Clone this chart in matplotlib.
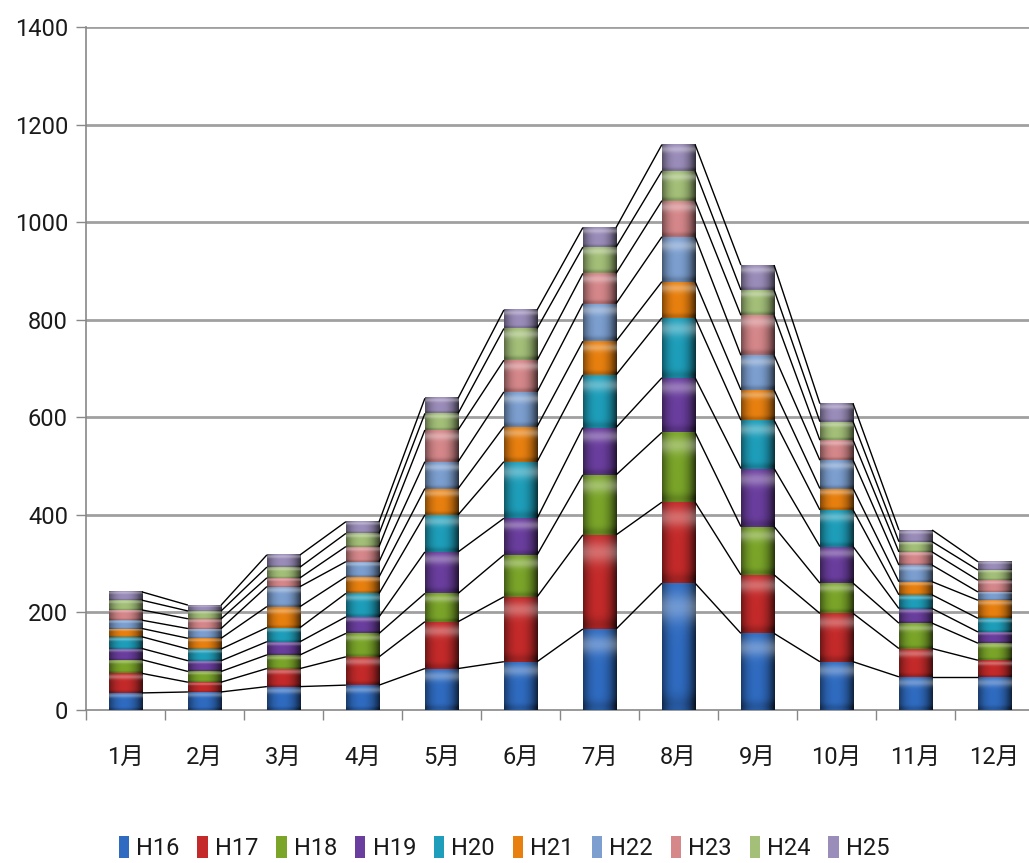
import matplotlib
matplotlib.use("Agg")
import matplotlib.pyplot as plt
import numpy as np
from matplotlib.patches import Rectangle
from matplotlib.colors import to_rgb

months = ['1月', '2月', '3月', '4月', '5月', '6月', '7月', '8月', '9月', '10月', '11月', '12月']
series_names = ['H16', 'H17', 'H18', 'H19', 'H20', 'H21', 'H22', 'H23', 'H24', 'H25']
H16 = [35, 37, 48, 51, 85, 99, 166, 260, 157, 99, 68, 68]
H17 = [40, 20, 37, 58, 96, 133, 193, 166, 120, 99, 58, 34]
H18 = [28, 22, 28, 48, 58, 86, 123, 143, 99, 62, 52, 35]
H19 = [23, 22, 27, 34, 85, 75, 97, 112, 119, 75, 30, 23]
H20 = [24, 24, 29, 48, 76, 116, 108, 123, 99, 75, 28, 28]
H21 = [17, 22, 43, 34, 54, 72, 69, 74, 62, 44, 27, 37]
H22 = [17, 20, 41, 31, 55, 71, 77, 92, 71, 58, 34, 17]
H23 = [21, 20, 18, 31, 65, 65, 62, 74, 82, 41, 27, 24]
H24 = [20, 16, 22, 27, 34, 65, 54, 61, 52, 38, 21, 21]
H25 = [17, 12, 25, 24, 31, 38, 40, 54, 51, 37, 24, 17]
yticks = [0, 200, 400, 600, 800, 1000, 1200, 1400]

series = [H16, H17, H18, H19, H20, H21, H22, H23, H24, H25]
colors = ['#2F6BC0', '#C42A2A', '#7AA529', '#6A3E9E', '#1E9EBA',
          '#E8800F', '#7C9FD0', '#D5878A', '#A3BF78', '#9B8DBA']

LATIN = ['Roboto', 'Liberation Sans', 'DejaVu Sans']
CJK = ['Roboto', 'Noto Sans CJK JP', 'DejaVu Sans']

fig = plt.figure(figsize=(10.29, 8.63), dpi=100)
ax = fig.add_axes([86 / 1029, (863 - 710) / 863, (1034 - 86) / 1029, (710 - 27) / 863])

x = np.arange(len(months))
w = 0.42


def shade(base, nx=40, ny=30):
    r = np.array(to_rgb(base))
    xs = np.linspace(-1, 1, nx)
    ys = np.linspace(0, 1, ny)  # 0 bottom, 1 top
    X, Y = np.meshgrid(xs, ys)
    hcur = 1.0 - 0.55 * np.abs(X + 0.1) ** 2.2
    vband = 0.35 * np.exp(-((Y - 0.82) / 0.12) ** 2)
    vdark = -0.18 * np.exp(-((Y - 0.03) / 0.08) ** 2)
    img = np.empty((ny, nx, 3))
    for c in range(3):
        val = r[c] * hcur + vdark * r[c]
        val = val + vband * (1 - val) * 0.9
        img[:, :, c] = val
    return np.clip(img, 0, 1)


bottoms = np.zeros(len(months))
tops_per_series = []
for vals, col in zip(series, colors):
    vals = np.array(vals, dtype=float)
    img = shade(col)
    for i in range(len(months)):
        b = bottoms[i]
        t = b + vals[i]
        ax.imshow(img, extent=[x[i] - w / 2, x[i] + w / 2, b, t], origin='lower',
                  aspect='auto', interpolation='bilinear', zorder=3)
    bottoms = bottoms + vals
    tops_per_series.append(bottoms.copy())

# series lines
for tops in tops_per_series:
    for i in range(len(months) - 1):
        ax.plot([x[i] + w / 2, x[i + 1] - w / 2], [tops[i], tops[i + 1]],
                color='black', lw=1.0, zorder=4, solid_capstyle='butt')

ax.set_xlim(-0.5, len(months) - 0.5)
ax.set_ylim(0, 1400)
ax.set_yticks(yticks)
ax.set_yticklabels([str(v) for v in yticks], family=LATIN, fontsize=17, color='#1a1a1a')
for yv in yticks[1:]:
    ax.axhline(yv, color='#a0a0a0', lw=2, zorder=1)

ax.set_xticks(x)
ax.set_xticklabels(months, family=CJK, fontsize=17, color='#1a1a1a')
ax.set_xticks(np.arange(len(months) + 1) - 0.5, minor=True)
ax.tick_params(axis='x', which='major', length=0, pad=26)
ax.tick_params(axis='x', which='minor', length=7, color='#888888', width=1)
ax.tick_params(axis='y', length=7, color='#888888', width=1, pad=6)

for s in ['top', 'right']:
    ax.spines[s].set_visible(False)
ax.spines['left'].set_color('#888888')
ax.spines['bottom'].set_color('#888888')
ax.spines['left'].set_linewidth(1.2)
ax.spines['bottom'].set_linewidth(1.2)

handles = [Rectangle((0, 0), 1, 1, facecolor=c, edgecolor='none') for c in colors]
leg = fig.legend(handles, series_names, loc='center', bbox_to_anchor=(0.49, 1 - 848 / 863),
                 ncol=10, frameon=False, handlelength=0.45, handleheight=1.1,
                 handletextpad=0.3, columnspacing=0.75,
                 prop={'family': LATIN, 'size': 17})
for t in leg.get_texts():
    t.set_color('#1a1a1a')

fig.savefig('out.png', dpi=100)
